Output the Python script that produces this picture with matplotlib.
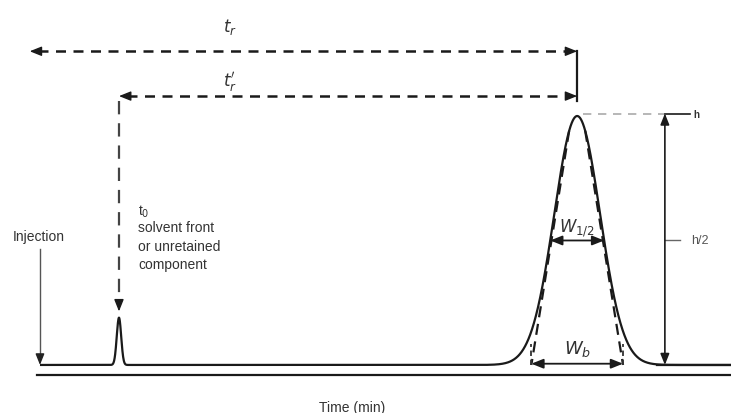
import numpy as np
import matplotlib
matplotlib.use("Agg")
import matplotlib.pyplot as plt

# ---- data (time in min, signal relative to main peak height) ----
t_injection = 0.0
t_zero = 1.0
t_ret = 6.8
peak_heights = [0.19, 1.0]
peak_centers = [t_zero, t_ret]
peak_sigmas = [0.028, 0.29]
t_start, t_end = 0.0, 8.75
axis_level = -0.04
tr_arrow_level = 1.26
trp_arrow_level = 1.08
h_marker_x = 7.91
labels_t0 = ["t$_0$", "solvent front", "or unretained", "component"]

plt.rcParams['font.family'] = ['Liberation Sans', 'DejaVu Sans']
fig = plt.figure(figsize=(7.31, 4.14), dpi=100)
ax = fig.add_axes([0, 0, 1, 1])
ax.set_xlim(-0.506, 8.747)
ax.set_ylim(-0.193, 1.47)
ax.axis('off')

dark = '#1a1a1a'
txt = '#333333'

# chromatogram trace
t = np.linspace(t_start, t_end, 4000)
sig = np.zeros_like(t)
for c, h, s in zip(peak_centers, peak_heights, peak_sigmas):
    sig += h * np.exp(-0.5 * ((t - c) / s) ** 2)
ax.plot(t, sig, color=dark, lw=1.6, solid_capstyle='butt')
# time axis line
ax.plot([t_start - 0.04, t_end], [axis_level, axis_level], color=dark, lw=1.6)

HEAD = '-|>,head_length=0.55,head_width=0.22'
HEAD2 = '<|-|>,head_length=0.55,head_width=0.22'

def head(x, y, dx, dy, color=dark, ms=13):
    ax.annotate('', xy=(x, y), xytext=(x - dx, y - dy),
                arrowprops=dict(arrowstyle=HEAD, color=color, lw=1.0,
                                mutation_scale=ms, shrinkA=0, shrinkB=0))

dash = (0, (4, 3))
# t_r arrow
xl = -0.13
ax.plot([xl + 0.1, t_ret - 0.08], [tr_arrow_level] * 2, color=dark, lw=1.8, ls=dash)
head(xl, tr_arrow_level, -0.11, 0)
head(t_ret, tr_arrow_level, 0.11, 0)
ax.text(2.4, 1.36, '$t_r$', fontsize=12, color=txt, ha='center', va='center')
# t_r' arrow
ax.plot([t_zero + 0.1, t_ret - 0.08], [trp_arrow_level] * 2, color=dark, lw=1.8, ls=dash)
head(t_zero, trp_arrow_level, -0.11, 0)
head(t_ret, trp_arrow_level, 0.11, 0)
ax.text(2.4, 1.14, "$t_r'$", fontsize=12, color=txt, ha='center', va='center')
# vertical solid at t_r
ax.plot([t_ret, t_ret], [tr_arrow_level, trp_arrow_level - 0.02], color=dark, lw=1.6)

# vertical dashed at t0
ax.plot([t_zero, t_zero], [trp_arrow_level - 0.02, 0.26], color='#444444', lw=1.6, ls=(0, (6, 4)))
head(t_zero, 0.215, 0, -0.04)
ax.text(t_zero + 0.24, 0.62, labels_t0[0], fontsize=10, color=txt, ha='left', va='center')
for i, s in enumerate(labels_t0[1:]):
    ax.text(t_zero + 0.24, 0.553 - i * 0.074, s, fontsize=10, color=txt, ha='left', va='center')

# injection arrow
ax.plot([t_injection, t_injection], [0.466, 0.04], color='#555555', lw=1.0)
head(t_injection, 0.0, 0, -0.04, color='#222222', ms=12)
ax.text(-0.35, 0.52, 'Injection', fontsize=10, color=txt, ha='left', va='center')

# tangents on main peak
s = peak_sigmas[1]
for side in (-1, 1):
    xs = np.array([t_ret + side * 0.35 * s, t_ret + side * 2.0 * s])
    ys = np.array([np.exp(-0.5 * 0.35 ** 2), 0.0])
    ax.plot(xs, ys, color=dark, lw=1.6, ls=(0, (5, 3)))
    xb = t_ret + side * 2 * s
    ax.plot([xb, xb], [0.0, 0.085], color='#333333', lw=1.3, ls=(0, (3, 2)))

# W_b arrow
ax.annotate('', xy=(t_ret - 2 * s, 0.005), xytext=(t_ret + 2 * s, 0.005),
            arrowprops=dict(arrowstyle=HEAD2, color=dark,
                            lw=1.3, mutation_scale=13, shrinkA=0, shrinkB=0))
ax.text(t_ret, 0.07, '$W_b$', fontsize=13, color=txt, ha='center', va='center')

# W_1/2 arrow
hw = 1.1774 * s
ax.annotate('', xy=(t_ret - hw, 0.5), xytext=(t_ret + hw, 0.5),
            arrowprops=dict(arrowstyle=HEAD2, color=dark,
                            lw=1.3, mutation_scale=13, shrinkA=0, shrinkB=0))
ax.text(t_ret, 0.555, '$W_{1/2}$', fontsize=12, color=txt, ha='center', va='center')

# h marker
ax.plot([t_ret + 0.07, h_marker_x], [1.01, 1.01], color='#aaaaaa', lw=1.2, ls=(0, (5, 4)))
ax.plot([h_marker_x, h_marker_x + 0.32], [1.01, 1.01], color=dark, lw=1.2)
ax.text(h_marker_x + 0.4, 1.01, 'h', fontsize=7, color=txt, ha='center', va='center',
        fontweight='bold')
ax.annotate('', xy=(h_marker_x, 1.01), xytext=(h_marker_x, 0.0),
            arrowprops=dict(arrowstyle=HEAD2, color=dark,
                            lw=1.2, mutation_scale=12, shrinkA=0, shrinkB=0))
ax.plot([h_marker_x, h_marker_x + 0.19], [0.5, 0.5], color='#666666', lw=1.0)
ax.text(h_marker_x + 0.44, 0.5, 'h/2', fontsize=9, color='#555555', ha='center', va='center')
# right baseline from marker
ax.plot([t_ret + 3.5 * s, t_end], [0.0, 0.0], color=dark, lw=1.6)

ax.text(3.95, -0.169, 'Time (min)', fontsize=10, color=txt, ha='center', va='center')

fig.savefig('out.png', dpi=100)
